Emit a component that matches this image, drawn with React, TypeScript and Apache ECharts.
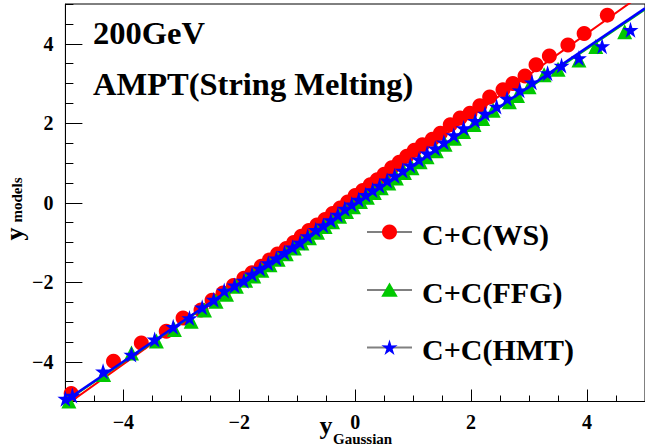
import React, { useEffect, useRef } from "react";
import * as echarts from "echarts";

const wsX = [-5.02, -4.90, -4.17, -3.69, -3.26, -2.97, -2.66, -2.47, -2.28, -2.10, -1.92, -1.78, -1.62, -1.48, -1.34, -1.19, -1.06, -0.93, -0.80, -0.66, -0.52, -0.39, -0.26, -0.13, 0.00, 0.13, 0.26, 0.38, 0.50, 0.63, 0.76, 0.89, 1.02, 1.16, 1.33, 1.47, 1.64, 1.81, 1.98, 2.15, 2.32, 2.55, 2.72, 2.93, 3.12, 3.35, 3.67, 3.95, 4.35];
const wsY = [-4.90, -4.80, -3.99, -3.53, -3.23, -2.90, -2.70, -2.45, -2.27, -2.08, -1.90, -1.76, -1.60, -1.44, -1.29, -1.15, -1.00, -0.84, -0.70, -0.56, -0.42, -0.27, -0.13, 0.02, 0.18, 0.31, 0.45, 0.58, 0.72, 0.88, 1.02, 1.17, 1.32, 1.46, 1.60, 1.75, 1.96, 2.13, 2.25, 2.44, 2.66, 2.84, 3.00, 3.19, 3.47, 3.69, 3.97, 4.26, 4.72];

const ffgX = [-5.02, -4.94, -4.34, -3.86, -3.43, -3.12, -2.83, -2.60, -2.40, -2.22, -2.05, -1.89, -1.75, -1.61, -1.47, -1.33, -1.19, -1.05, -0.92, -0.79, -0.65, -0.52, -0.39, -0.27, -0.15, -0.03, 0.09, 0.21, 0.33, 0.45, 0.58, 0.71, 0.85, 0.98, 1.12, 1.24, 1.40, 1.55, 1.71, 1.87, 2.05, 2.20, 2.38, 2.66, 2.80, 3.00, 3.26, 3.50, 3.86, 4.15, 4.65];
const ffgY = [-5.00, -4.99, -4.32, -3.78, -3.48, -3.19, -2.98, -2.70, -2.48, -2.30, -2.10, -1.95, -1.84, -1.70, -1.56, -1.42, -1.28, -1.14, -1.01, -0.88, -0.74, -0.60, -0.48, -0.34, -0.22, -0.10, 0.03, 0.14, 0.26, 0.38, 0.50, 0.62, 0.76, 0.88, 1.03, 1.16, 1.31, 1.47, 1.62, 1.79, 1.97, 2.12, 2.33, 2.54, 2.70, 2.92, 3.22, 3.36, 3.59, 3.93, 4.30];

const hmtX = [-5.00, -4.88, -4.35, -3.86, -3.46, -3.14, -2.86, -2.64, -2.44, -2.26, -2.08, -1.92, -1.78, -1.64, -1.50, -1.36, -1.22, -1.08, -0.95, -0.82, -0.68, -0.55, -0.42, -0.30, -0.18, -0.06, 0.06, 0.18, 0.30, 0.42, 0.55, 0.68, 0.82, 0.95, 1.10, 1.24, 1.38, 1.53, 1.70, 1.87, 2.07, 2.24, 2.44, 2.62, 2.84, 3.05, 3.32, 3.56, 3.86, 4.26, 4.75];
const hmtY = [-4.93, -4.85, -4.24, -3.82, -3.44, -3.12, -2.90, -2.63, -2.44, -2.21, -2.08, -1.96, -1.80, -1.66, -1.52, -1.40, -1.26, -1.12, -1.00, -0.84, -0.68, -0.57, -0.44, -0.30, -0.15, -0.04, 0.08, 0.20, 0.32, 0.43, 0.56, 0.68, 0.81, 0.94, 1.09, 1.24, 1.37, 1.52, 1.70, 1.88, 2.06, 2.24, 2.42, 2.62, 2.83, 3.03, 3.26, 3.45, 3.64, 3.94, 4.35];

const wsFitX = [-5.0, -2.5, 0.0, 2.5, 4.8];
const wsFitY = [-5.1, -2.5, 0.1, 2.7, 5.09];
const ffgFitX = [-5.0, 5.0];
const ffgFitY = [-5.0, 4.86];
const hmtFitX = [-5.0, 5.0];
const hmtFitY = [-4.98, 4.89];

const seriesNames = ["C+C(WS)", "C+C(FFG)", "C+C(HMT)"];
const seriesColors = ["#ff0000", "#00c800", "#0000ff"];
const titleLines = ["200GeV", "AMPT(String Melting)"];

const FONT = "'Liberation Serif', 'Times New Roman', serif";
const STAR =
  "path://M100,0 L122.3,69.3 L195.1,69.1 L136.1,111.7 L158.8,180.9 L100,138 L41.2,180.9 L63.9,111.7 L4.9,69.1 L77.7,69.3 Z";
const TRIANGLE = "path://M50,0 L100,87 L0,87 Z";
const STAR_UNIT = [
  [0, -1], [0.223, -0.307], [0.951, -0.309], [0.361, 0.117], [0.588, 0.809],
  [0, 0.38], [-0.588, 0.809], [-0.361, 0.117], [-0.951, -0.309], [-0.223, -0.307],
];
const TRI_UNIT = [[0, -1], [1.1, 0.9], [-1.1, 0.9]];

const pairs = (xs: number[], ys: number[]) => xs.map((x, i) => [x, ys[i]]);
const fmt = (v: number) => String(v).replace("-", "\u2212");

export default function App() {
  const ref = useRef<HTMLDivElement>(null);
  useEffect(() => {
    if (!ref.current) return;
    const chart = echarts.init(ref.current, undefined, { renderer: "svg" });

    const legendRows = [232, 290, 347.5];
    const lx = 389.5;

    const textStyle = (font: string, align: string) => ({
      font,
      fill: "#000",
      textAlign: align,
      textVerticalAlign: "middle",
      align,
      verticalAlign: "middle",
    });

    const legendMarkers = [
      { type: "circle", z: 11, shape: { cx: lx, cy: legendRows[0], r: 7.5 }, style: { fill: seriesColors[0] } },
      {
        type: "polygon",
        z: 11,
        shape: { points: TRI_UNIT.map(([a, b]) => [lx + a * 7.5, legendRows[1] + b * 7.5]) },
        style: { fill: seriesColors[1] },
      },
      {
        type: "polygon",
        z: 11,
        shape: { points: STAR_UNIT.map(([a, b]) => [lx + a * 8.5, legendRows[2] + 0.5 + b * 8.5]) },
        style: { fill: seriesColors[2] },
      },
    ];

    const legendGraphics = legendRows.flatMap((y, i) => [
      { type: "line", z: 10, shape: { x1: 367, y1: y, x2: 412, y2: y }, style: { stroke: "#808080", lineWidth: 2 } },
      { type: "text", z: 10, x: 422, y: y + 2, style: { text: seriesNames[i], ...textStyle(`bold 30px ${FONT}`, "left") } },
    ]);

    const axisCommon = {
      type: "value",
      min: -5,
      max: 5,
      splitLine: { show: false },
    };

    chart.setOption({
      animation: false,
      backgroundColor: "#ffffff",
      grid: {
        left: 65.4,
        right: -4.8,
        top: 4,
        bottom: 46.5,
        show: true,
        borderColor: "#000",
        borderWidth: 1,
        backgroundColor: "transparent",
      },
      xAxis: [
        {
          ...axisCommon,
          position: "bottom",
          splitNumber: 5,
          axisLine: { show: true, onZero: false, lineStyle: { color: "#000", width: 1 } },
          axisTick: { show: true, inside: true, length: 12, lineStyle: { color: "#000", width: 1 } },
          axisLabel: {
            showMinLabel: false,
            showMaxLabel: false,
            margin: 20,
            verticalAlign: "middle",
            fontFamily: FONT,
            fontWeight: "bold",
            fontSize: 20,
            color: "#000",
            formatter: fmt,
          },
        },
        {
          ...axisCommon,
          position: "bottom",
          interval: 0.5,
          axisLine: { show: false, onZero: false },
          axisTick: { show: true, inside: true, length: 6, lineStyle: { color: "#000", width: 1 } },
          axisLabel: { show: false },
        },
      ],
      yAxis: [
        {
          ...axisCommon,
          position: "left",
          splitNumber: 5,
          axisLine: { show: true, onZero: false, lineStyle: { color: "#000", width: 1 } },
          axisTick: { show: true, inside: true, length: 17, lineStyle: { color: "#000", width: 1 } },
          axisLabel: {
            showMinLabel: false,
            showMaxLabel: false,
            margin: 12,
            fontFamily: FONT,
            fontWeight: "bold",
            fontSize: 20,
            color: "#000",
            formatter: fmt,
          },
        },
        {
          ...axisCommon,
          position: "left",
          interval: 0.5,
          axisLine: { show: false, onZero: false },
          axisTick: { show: true, inside: true, length: 8, lineStyle: { color: "#000", width: 1 } },
          axisLabel: { show: false },
        },
      ],
      graphic: [
        ...legendGraphics,
        ...legendMarkers,
        { type: "text", x: 93, y: 33, style: { text: titleLines[0], ...textStyle(`bold 32.5px ${FONT}`, "left") } },
        { type: "text", x: 93, y: 84, style: { text: titleLines[1], ...textStyle(`bold 32.5px ${FONT}`, "left") } },
        { type: "text", x: 326, y: 425, style: { text: "y", ...textStyle(`bold 26px ${FONT}`, "center") } },
        { type: "text", x: 333, y: 439, style: { text: "Gaussian", ...textStyle(`bold 15px ${FONT}`, "left") } },
        { type: "text", x: 14, y: 234, rotation: Math.PI / 2, style: { text: "y", ...textStyle(`bold 26px ${FONT}`, "center") } },
        { type: "text", x: 16.5, y: 200, rotation: Math.PI / 2, style: { text: "models", ...textStyle(`bold 15px ${FONT}`, "center") } },
      ],
      series: [
        {
          name: seriesNames[0],
          type: "scatter",
          data: pairs(wsX, wsY),
          symbol: "circle",
          symbolSize: 15,
          itemStyle: { color: seriesColors[0], opacity: 1 },
          z: 2,
        },
        {
          name: "wsFit",
          type: "line",
          data: pairs(wsFitX, wsFitY),
          symbol: "none",
          smooth: true,
          lineStyle: { color: seriesColors[0], width: 2 },
          z: 3,
        },
        {
          name: seriesNames[1],
          type: "scatter",
          data: pairs(ffgX, ffgY),
          symbol: TRIANGLE,
          symbolSize: 15,
          itemStyle: { color: seriesColors[1], opacity: 1 },
          z: 4,
        },
        {
          name: "ffgFit",
          type: "line",
          data: pairs(ffgFitX, ffgFitY),
          symbol: "none",
          lineStyle: { color: seriesColors[1], width: 2 },
          z: 5,
        },
        {
          name: seriesNames[2],
          type: "scatter",
          data: pairs(hmtX, hmtY),
          symbol: STAR,
          symbolSize: 16,
          itemStyle: { color: seriesColors[2], opacity: 1 },
          z: 6,
        },
        {
          name: "hmtFit",
          type: "line",
          data: pairs(hmtFitX, hmtFitY),
          symbol: "none",
          lineStyle: { color: seriesColors[2], width: 2.5 },
          z: 7,
        },
      ],
    });
    return () => chart.dispose();
  }, []);

  return (
    <div
      ref={ref}
      style={{ position: "fixed", left: 0, top: 0, width: 645, height: 448, background: "#fff" }}
    />
  );
}
